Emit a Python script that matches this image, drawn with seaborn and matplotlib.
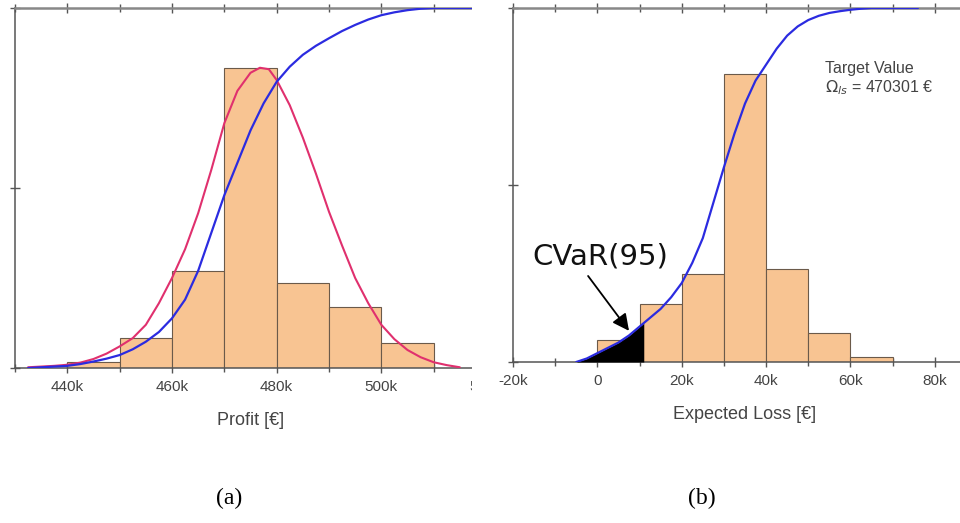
import numpy as np
import pandas as pd
import matplotlib
matplotlib.use("Agg")
import matplotlib.pyplot as plt
from matplotlib.patches import Rectangle
from matplotlib.ticker import FuncFormatter, MultipleLocator
import seaborn as sns

# ---------------- data ----------------
# (a) profit histogram (bin edges in EUR, relative heights)
profit_edges = [440e3, 450e3, 460e3, 470e3, 480e3, 490e3, 500e3, 510e3]
profit_heights = [0.017, 0.083, 0.270, 0.833, 0.236, 0.169, 0.069]

# (a) cumulative distribution of profit
profit_cdf_x = [432.5e3, 435e3, 437.5e3, 440e3, 442.5e3, 445e3, 447.5e3, 450e3,
                452.5e3, 455e3, 457.5e3, 460e3, 462.5e3, 465e3, 467.5e3, 470e3,
                472.5e3, 475e3, 477.5e3, 480e3, 482.5e3, 485e3, 487.5e3, 490e3,
                492.5e3, 495e3, 497.5e3, 500e3, 502.5e3, 505e3, 507.5e3, 510e3, 525e3]
profit_cdf_y = [0.0, 0.002, 0.004, 0.006, 0.011, 0.018, 0.026, 0.036,
                0.052, 0.073, 0.100, 0.138, 0.190, 0.270, 0.375, 0.480,
                0.570, 0.660, 0.735, 0.795, 0.837, 0.870, 0.895, 0.916,
                0.936, 0.953, 0.968, 0.980, 0.988, 0.994, 0.998, 1.0, 1.0]

# (a) fitted density of profit (scaled to the histogram)
profit_pdf_x = [432.5e3, 435e3, 437.5e3, 440e3, 442.5e3, 445e3, 447.5e3, 450e3,
                452.5e3, 455e3, 457.5e3, 460e3, 462.5e3, 465e3, 467.5e3, 470e3,
                472.5e3, 475e3, 476.8e3, 478.5e3, 480e3, 482.5e3, 485e3, 487.5e3,
                490e3, 492.5e3, 495e3, 497.5e3, 500e3, 502.5e3, 505e3, 507.5e3,
                510e3, 512.5e3, 515e3]
profit_pdf_y = [0.002, 0.004, 0.006, 0.009, 0.015, 0.025, 0.040, 0.060,
                0.083, 0.120, 0.180, 0.250, 0.330, 0.430, 0.550, 0.680,
                0.770, 0.820, 0.834, 0.830, 0.800, 0.730, 0.640, 0.540,
                0.434, 0.340, 0.250, 0.180, 0.120, 0.080, 0.050, 0.030,
                0.016, 0.008, 0.002]

# (b) expected loss histogram
loss_edges = [0, 10e3, 20e3, 30e3, 40e3, 50e3, 60e3, 70e3]
loss_heights = [0.062, 0.164, 0.249, 0.814, 0.263, 0.082, 0.014]

# (b) cumulative distribution of expected loss
loss_cdf_x = [-5e3, -2.5e3, 0, 2.5e3, 5e3, 7.5e3, 10e3, 11e3, 12.5e3, 15e3, 17.5e3,
              20e3, 22.5e3, 25e3, 27.5e3, 30e3, 32.5e3, 35e3, 37.5e3, 40e3, 42.5e3,
              45e3, 47.5e3, 50e3, 52.5e3, 55e3, 57.5e3, 60e3, 62.5e3, 65e3, 76e3]
loss_cdf_y = [0.0, 0.010, 0.025, 0.040, 0.055, 0.075, 0.100, 0.110, 0.125, 0.150, 0.183,
              0.223, 0.280, 0.350, 0.450, 0.550, 0.645, 0.730, 0.795, 0.840, 0.885,
              0.922, 0.948, 0.966, 0.978, 0.986, 0.991, 0.995, 0.998, 1.0, 1.0]

cvar_limit = 11e3
target_value = 470301

# ---------------- style ----------------
sns.set_style("ticks")
plt.rcParams["font.family"] = ["Liberation Sans", "DejaVu Sans"]

BAR_COLOR = "#f8c492"
BAR_EDGE = "#6b5a4a"
BLUE = "#2b2be0"
PINK = "#e0306e"
SPINE = "#555555"
TEXT = "#444444"

fig = plt.figure(figsize=(9.6, 5.23), dpi=100)
W, H = 960, 523


def px_axes(left, right, top, bottom):
    return fig.add_axes([left / W, 1 - bottom / H, (right - left) / W, (bottom - top) / H])


def k_fmt(v, _):
    return "0" if abs(v) < 1 else f"{int(round(v / 1000))}k"


def style_axes(ax, xlim, xlabel):
    ax.set_xlim(*xlim)
    ax.set_ylim(0, 1)
    ax.xaxis.set_major_locator(MultipleLocator(20e3))
    ax.xaxis.set_minor_locator(MultipleLocator(10e3))
    ax.xaxis.set_major_formatter(FuncFormatter(k_fmt))
    ax.set_yticks([0, 0.5, 1])
    ax.set_yticklabels([])
    ax.tick_params(axis="both", which="both", direction="inout", top=True,
                   color=SPINE, width=1.0, labelcolor=TEXT, labelsize=11, pad=5)
    ax.tick_params(axis="both", which="major", length=7)
    ax.tick_params(axis="both", which="minor", length=6)
    for s in ax.spines.values():
        s.set_color(SPINE)
        s.set_linewidth(1.1)
    ax.spines["top"].set_color("#888888")
    ax.spines["top"].set_linewidth(1.8)
    ax.set_xlabel(xlabel, fontsize=13, color=TEXT, labelpad=13)
    ax.set_ylabel("")


# ---------------- (a) profit ----------------
ax1 = px_axes(15, 486, 8, 368)
ax1.set_zorder(0)
p_centers = [(a + b) / 2 for a, b in zip(profit_edges[:-1], profit_edges[1:])]
sns.histplot(x=p_centers, weights=profit_heights, bins=profit_edges, ax=ax1,
             color=BAR_COLOR, alpha=1, edgecolor=BAR_EDGE, linewidth=0.8, zorder=1)
sns.lineplot(x=profit_pdf_x, y=profit_pdf_y, ax=ax1, color=PINK, lw=1.5, zorder=3)
sns.lineplot(x=profit_cdf_x, y=profit_cdf_y, ax=ax1, color=BLUE, lw=1.6, zorder=4)
style_axes(ax1, (430e3, 520e3), "Profit [€]")

# ---------------- (b) expected loss ----------------
ax2 = px_axes(513, 977, 8, 362)
ax2.set_zorder(2)
l_centers = [(a + b) / 2 for a, b in zip(loss_edges[:-1], loss_edges[1:])]
sns.histplot(x=l_centers, weights=loss_heights, bins=loss_edges, ax=ax2,
             color=BAR_COLOR, alpha=1, edgecolor=BAR_EDGE, linewidth=0.8, zorder=1)

cdf = pd.DataFrame({"x": loss_cdf_x, "y": loss_cdf_y})
tail = cdf[cdf["x"] <= cvar_limit]
ax2.fill_between(tail["x"], 0, tail["y"], color="black", lw=0, zorder=3)
sns.lineplot(data=cdf, x="x", y="y", ax=ax2, color=BLUE, lw=1.6, zorder=4)
style_axes(ax2, (-20e3, 90e3), "Expected Loss [€]")

ax2.text(-15.3e3, 0.297, "CVaR(95)", fontsize=21, family="DejaVu Sans",
         color="#111111", ha="left", va="center", zorder=5)
ax2.annotate("", xy=(7.5e3, 0.088), xytext=(-2.2e3, 0.243),
             arrowprops=dict(arrowstyle="-|>", color="black", lw=1.3,
                             mutation_scale=25, shrinkA=0, shrinkB=0), zorder=5)
ax2.text(53.9e3, 0.83, "Target Value", fontsize=11.5, color=TEXT,
         ha="left", va="center", zorder=5)
ax2.text(53.9e3, 0.774, r"$\Omega_{ls}$" + f" = {target_value} €", fontsize=11.5,
         color=TEXT, ha="left", va="center", zorder=5)

# blank gap between the two panels
fig.add_artist(Rectangle((472 / W, 0), 36 / W, 1, transform=fig.transFigure,
                         facecolor="white", edgecolor="none", zorder=1))

# panel captions
fig.text(229 / W, 1 - 498 / H, "(a)", family="Liberation Serif", fontsize=17,
         ha="center", va="center", color="black")
fig.text(702 / W, 1 - 498 / H, "(b)", family="Liberation Serif", fontsize=17,
         ha="center", va="center", color="black")

fig.savefig("out.png", dpi=100, facecolor="white")
